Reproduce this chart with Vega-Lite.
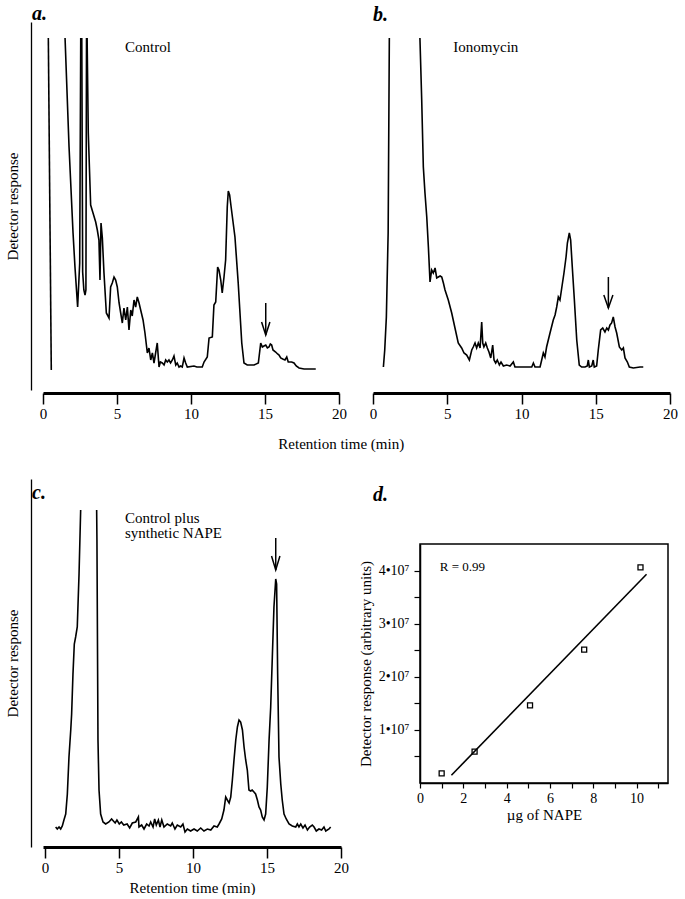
{
  "$schema": "https://vega.github.io/schema/vega-lite/v6.json",
  "padding": {"left": 5, "top": 4, "right": 0, "bottom": 0},
  "background": "white",
  "config": {
    "font": "Liberation Serif",
    "view": {"stroke": null},
    "axis": {"labelFont": "Liberation Serif", "titleFont": "Liberation Serif", "labelColor": "black", "titleColor": "black", "domainColor": "black", "tickColor": "black", "grid": false, "titleFontWeight": "normal", "labelFontSize": 15, "titleFontSize": 15, "labelFlush": false},
    "title": {"font": "Liberation Serif", "fontStyle": "italic", "fontWeight": "bold", "fontSize": 20, "anchor": "start", "frame": "group", "color": "black", "baseline": "alphabetic"},
    "text": {"font": "Liberation Serif", "fontSize": 15, "color": "black", "align": "left", "baseline": "alphabetic"}
  },
  "datasets": {
    "chromA": [
      {"seg": 1, "t": 0.36, "r": 352}, {"seg": 1, "t": 0.56, "r": 20},
      {"seg": 2, "t": 1.49, "r": 352}, {"seg": 2, "t": 1.76, "r": 243}, {"seg": 2, "t": 2.03, "r": 157}, {"seg": 2, "t": 2.16, "r": 123}, {"seg": 2, "t": 2.34, "r": 83}, {"seg": 2, "t": 2.48, "r": 127}, {"seg": 2, "t": 2.55, "r": 352},
      {"seg": 3, "t": 2.62, "r": 352}, {"seg": 3, "t": 2.68, "r": 118}, {"seg": 3, "t": 2.76, "r": 100}, {"seg": 3, "t": 2.84, "r": 95}, {"seg": 3, "t": 2.9, "r": 100}, {"seg": 3, "t": 2.94, "r": 352},
      {"seg": 4, "t": 2.98, "r": 352}, {"seg": 4, "t": 3.06, "r": 257}, {"seg": 4, "t": 3.22, "r": 185}, {"seg": 4, "t": 3.38, "r": 177}, {"seg": 4, "t": 3.56, "r": 168}, {"seg": 4, "t": 3.67, "r": 160}, {"seg": 4, "t": 3.78, "r": 150}, {"seg": 4, "t": 3.85, "r": 110}, {"seg": 4, "t": 3.92, "r": 167}, {"seg": 4, "t": 4.01, "r": 152}, {"seg": 4, "t": 4.12, "r": 117}, {"seg": 4, "t": 4.28, "r": 77}, {"seg": 4, "t": 4.46, "r": 72}, {"seg": 4, "t": 4.57, "r": 103}, {"seg": 4, "t": 4.68, "r": 107}, {"seg": 4, "t": 4.8, "r": 113}, {"seg": 4, "t": 4.91, "r": 110}, {"seg": 4, "t": 5.02, "r": 103}, {"seg": 4, "t": 5.14, "r": 87}, {"seg": 4, "t": 5.25, "r": 77}, {"seg": 4, "t": 5.36, "r": 67}, {"seg": 4, "t": 5.47, "r": 82}, {"seg": 4, "t": 5.59, "r": 70}, {"seg": 4, "t": 5.7, "r": 83}, {"seg": 4, "t": 5.81, "r": 60}, {"seg": 4, "t": 5.93, "r": 80}, {"seg": 4, "t": 6.03, "r": 74}, {"seg": 4, "t": 6.15, "r": 90}, {"seg": 4, "t": 6.26, "r": 83}, {"seg": 4, "t": 6.37, "r": 93}, {"seg": 4, "t": 6.49, "r": 87}, {"seg": 4, "t": 6.6, "r": 80}, {"seg": 4, "t": 6.76, "r": 70}, {"seg": 4, "t": 6.89, "r": 57}, {"seg": 4, "t": 7.05, "r": 37}, {"seg": 4, "t": 7.16, "r": 42}, {"seg": 4, "t": 7.28, "r": 30}, {"seg": 4, "t": 7.39, "r": 37}, {"seg": 4, "t": 7.5, "r": 27}, {"seg": 4, "t": 7.61, "r": 37}, {"seg": 4, "t": 7.72, "r": 47}, {"seg": 4, "t": 7.84, "r": 23}, {"seg": 4, "t": 7.93, "r": 28}, {"seg": 4, "t": 8.06, "r": 27}, {"seg": 4, "t": 8.18, "r": 25}, {"seg": 4, "t": 8.29, "r": 30}, {"seg": 4, "t": 8.4, "r": 28}, {"seg": 4, "t": 8.51, "r": 30}, {"seg": 4, "t": 8.62, "r": 27}, {"seg": 4, "t": 8.74, "r": 30}, {"seg": 4, "t": 8.85, "r": 34}, {"seg": 4, "t": 8.97, "r": 25}, {"seg": 4, "t": 9.07, "r": 27}, {"seg": 4, "t": 9.19, "r": 23}, {"seg": 4, "t": 9.3, "r": 24}, {"seg": 4, "t": 9.41, "r": 23}, {"seg": 4, "t": 9.53, "r": 32}, {"seg": 4, "t": 9.64, "r": 27}, {"seg": 4, "t": 9.75, "r": 23}, {"seg": 4, "t": 10.2, "r": 24}, {"seg": 4, "t": 10.4, "r": 23}, {"seg": 4, "t": 10.76, "r": 23}, {"seg": 4, "t": 10.88, "r": 28}, {"seg": 4, "t": 11.1, "r": 33}, {"seg": 4, "t": 11.22, "r": 52}, {"seg": 4, "t": 11.44, "r": 53}, {"seg": 4, "t": 11.55, "r": 85}, {"seg": 4, "t": 11.67, "r": 88}, {"seg": 4, "t": 11.8, "r": 123}, {"seg": 4, "t": 11.89, "r": 120}, {"seg": 4, "t": 12.01, "r": 110}, {"seg": 4, "t": 12.11, "r": 97}, {"seg": 4, "t": 12.23, "r": 113}, {"seg": 4, "t": 12.34, "r": 130}, {"seg": 4, "t": 12.45, "r": 183}, {"seg": 4, "t": 12.52, "r": 199}, {"seg": 4, "t": 12.61, "r": 195}, {"seg": 4, "t": 12.72, "r": 182}, {"seg": 4, "t": 12.97, "r": 153}, {"seg": 4, "t": 13.19, "r": 107}, {"seg": 4, "t": 13.43, "r": 47}, {"seg": 4, "t": 13.58, "r": 27}, {"seg": 4, "t": 13.8, "r": 25}, {"seg": 4, "t": 14.26, "r": 25}, {"seg": 4, "t": 14.55, "r": 27}, {"seg": 4, "t": 14.71, "r": 47}, {"seg": 4, "t": 14.82, "r": 43}, {"seg": 4, "t": 14.93, "r": 44}, {"seg": 4, "t": 15.05, "r": 45}, {"seg": 4, "t": 15.16, "r": 42}, {"seg": 4, "t": 15.27, "r": 43}, {"seg": 4, "t": 15.36, "r": 46}, {"seg": 4, "t": 15.45, "r": 45}, {"seg": 4, "t": 15.54, "r": 40}, {"seg": 4, "t": 15.72, "r": 38}, {"seg": 4, "t": 15.85, "r": 36}, {"seg": 4, "t": 15.95, "r": 35}, {"seg": 4, "t": 16.06, "r": 32}, {"seg": 4, "t": 16.2, "r": 31}, {"seg": 4, "t": 16.35, "r": 30}, {"seg": 4, "t": 16.47, "r": 33}, {"seg": 4, "t": 16.57, "r": 28}, {"seg": 4, "t": 16.8, "r": 28}, {"seg": 4, "t": 16.96, "r": 27}, {"seg": 4, "t": 17.11, "r": 24}, {"seg": 4, "t": 17.3, "r": 22}, {"seg": 4, "t": 17.64, "r": 21}, {"seg": 4, "t": 18.43, "r": 21}
    ],
    "chromB": [
      {"seg": 1, "t": 0.7, "r": 23}, {"seg": 1, "t": 0.79, "r": 40}, {"seg": 1, "t": 0.9, "r": 73}, {"seg": 1, "t": 1.02, "r": 157}, {"seg": 1, "t": 1.1, "r": 352},
      {"seg": 2, "t": 3.16, "r": 352}, {"seg": 2, "t": 3.28, "r": 290}, {"seg": 2, "t": 3.39, "r": 223}, {"seg": 2, "t": 3.5, "r": 197}, {"seg": 2, "t": 3.62, "r": 173}, {"seg": 2, "t": 3.73, "r": 143}, {"seg": 2, "t": 3.84, "r": 108}, {"seg": 2, "t": 3.95, "r": 120}, {"seg": 2, "t": 4.06, "r": 117}, {"seg": 2, "t": 4.18, "r": 122}, {"seg": 2, "t": 4.29, "r": 112}, {"seg": 2, "t": 4.4, "r": 113}, {"seg": 2, "t": 4.52, "r": 114}, {"seg": 2, "t": 4.63, "r": 113}, {"seg": 2, "t": 4.74, "r": 107}, {"seg": 2, "t": 4.85, "r": 100}, {"seg": 2, "t": 5.07, "r": 90}, {"seg": 2, "t": 5.3, "r": 77}, {"seg": 2, "t": 5.52, "r": 62}, {"seg": 2, "t": 5.74, "r": 47}, {"seg": 2, "t": 5.97, "r": 42}, {"seg": 2, "t": 6.13, "r": 37}, {"seg": 2, "t": 6.31, "r": 35}, {"seg": 2, "t": 6.49, "r": 30}, {"seg": 2, "t": 6.65, "r": 40}, {"seg": 2, "t": 6.75, "r": 43}, {"seg": 2, "t": 6.87, "r": 47}, {"seg": 2, "t": 6.98, "r": 42}, {"seg": 2, "t": 7.09, "r": 47}, {"seg": 2, "t": 7.21, "r": 42}, {"seg": 2, "t": 7.32, "r": 68}, {"seg": 2, "t": 7.39, "r": 47}, {"seg": 2, "t": 7.47, "r": 43}, {"seg": 2, "t": 7.59, "r": 47}, {"seg": 2, "t": 7.7, "r": 42}, {"seg": 2, "t": 7.81, "r": 38}, {"seg": 2, "t": 7.93, "r": 32}, {"seg": 2, "t": 8.06, "r": 45}, {"seg": 2, "t": 8.15, "r": 30}, {"seg": 2, "t": 8.26, "r": 27}, {"seg": 2, "t": 8.37, "r": 30}, {"seg": 2, "t": 8.51, "r": 25}, {"seg": 2, "t": 8.62, "r": 28}, {"seg": 2, "t": 8.78, "r": 24}, {"seg": 2, "t": 9.0, "r": 25}, {"seg": 2, "t": 9.23, "r": 24}, {"seg": 2, "t": 9.45, "r": 28}, {"seg": 2, "t": 9.56, "r": 23}, {"seg": 2, "t": 10.12, "r": 23}, {"seg": 2, "t": 10.69, "r": 23}, {"seg": 2, "t": 10.8, "r": 27}, {"seg": 2, "t": 10.91, "r": 23}, {"seg": 2, "t": 11.25, "r": 23}, {"seg": 2, "t": 11.36, "r": 30}, {"seg": 2, "t": 11.47, "r": 37}, {"seg": 2, "t": 11.58, "r": 33}, {"seg": 2, "t": 11.69, "r": 43}, {"seg": 2, "t": 11.92, "r": 57}, {"seg": 2, "t": 12.14, "r": 70}, {"seg": 2, "t": 12.26, "r": 75}, {"seg": 2, "t": 12.37, "r": 83}, {"seg": 2, "t": 12.48, "r": 93}, {"seg": 2, "t": 12.59, "r": 90}, {"seg": 2, "t": 12.71, "r": 102}, {"seg": 2, "t": 12.86, "r": 117}, {"seg": 2, "t": 13.0, "r": 133}, {"seg": 2, "t": 13.09, "r": 147}, {"seg": 2, "t": 13.22, "r": 157}, {"seg": 2, "t": 13.31, "r": 150}, {"seg": 2, "t": 13.42, "r": 123}, {"seg": 2, "t": 13.56, "r": 90}, {"seg": 2, "t": 13.72, "r": 50}, {"seg": 2, "t": 13.89, "r": 25}, {"seg": 2, "t": 14.05, "r": 23}, {"seg": 2, "t": 14.28, "r": 23}, {"seg": 2, "t": 14.43, "r": 24}, {"seg": 2, "t": 14.5, "r": 30}, {"seg": 2, "t": 14.57, "r": 23}, {"seg": 2, "t": 14.73, "r": 24}, {"seg": 2, "t": 14.83, "r": 30}, {"seg": 2, "t": 14.9, "r": 23}, {"seg": 2, "t": 15.06, "r": 24}, {"seg": 2, "t": 15.17, "r": 40}, {"seg": 2, "t": 15.33, "r": 60}, {"seg": 2, "t": 15.47, "r": 62}, {"seg": 2, "t": 15.62, "r": 58}, {"seg": 2, "t": 15.74, "r": 62}, {"seg": 2, "t": 15.85, "r": 60}, {"seg": 2, "t": 15.96, "r": 65}, {"seg": 2, "t": 16.07, "r": 67}, {"seg": 2, "t": 16.18, "r": 73}, {"seg": 2, "t": 16.3, "r": 63}, {"seg": 2, "t": 16.41, "r": 57}, {"seg": 2, "t": 16.59, "r": 43}, {"seg": 2, "t": 16.75, "r": 40}, {"seg": 2, "t": 16.86, "r": 42}, {"seg": 2, "t": 16.97, "r": 32}, {"seg": 2, "t": 17.13, "r": 28}, {"seg": 2, "t": 17.26, "r": 23}, {"seg": 2, "t": 17.53, "r": 22}, {"seg": 2, "t": 17.98, "r": 23}, {"seg": 2, "t": 18.2, "r": 23}
    ],
    "chromC": [
      {"seg": 1, "t": 0.72, "r": 20}, {"seg": 1, "t": 0.83, "r": 18}, {"seg": 1, "t": 0.95, "r": 20}, {"seg": 1, "t": 1.06, "r": 18}, {"seg": 1, "t": 1.17, "r": 21}, {"seg": 1, "t": 1.28, "r": 27}, {"seg": 1, "t": 1.4, "r": 33}, {"seg": 1, "t": 1.51, "r": 53}, {"seg": 1, "t": 1.62, "r": 90}, {"seg": 1, "t": 1.74, "r": 117}, {"seg": 1, "t": 1.8, "r": 133}, {"seg": 1, "t": 1.89, "r": 173}, {"seg": 1, "t": 1.98, "r": 203}, {"seg": 1, "t": 2.07, "r": 210}, {"seg": 1, "t": 2.18, "r": 220}, {"seg": 1, "t": 2.3, "r": 273}, {"seg": 1, "t": 2.41, "r": 337},
      {"seg": 2, "t": 3.49, "r": 337}, {"seg": 2, "t": 3.51, "r": 307}, {"seg": 2, "t": 3.58, "r": 107}, {"seg": 2, "t": 3.65, "r": 57}, {"seg": 2, "t": 3.76, "r": 33}, {"seg": 2, "t": 3.92, "r": 25}, {"seg": 2, "t": 4.1, "r": 23}, {"seg": 2, "t": 4.32, "r": 25}, {"seg": 2, "t": 4.5, "r": 28}, {"seg": 2, "t": 4.62, "r": 26}, {"seg": 2, "t": 4.74, "r": 24}, {"seg": 2, "t": 4.86, "r": 27}, {"seg": 2, "t": 5.02, "r": 23}, {"seg": 2, "t": 5.16, "r": 25}, {"seg": 2, "t": 5.32, "r": 22}, {"seg": 2, "t": 5.55, "r": 23}, {"seg": 2, "t": 5.72, "r": 19}, {"seg": 2, "t": 5.9, "r": 24}, {"seg": 2, "t": 6.13, "r": 25}, {"seg": 2, "t": 6.31, "r": 30}, {"seg": 2, "t": 6.35, "r": 20}, {"seg": 2, "t": 6.53, "r": 22}, {"seg": 2, "t": 6.69, "r": 18}, {"seg": 2, "t": 6.87, "r": 23}, {"seg": 2, "t": 7.03, "r": 21}, {"seg": 2, "t": 7.14, "r": 25}, {"seg": 2, "t": 7.3, "r": 20}, {"seg": 2, "t": 7.41, "r": 28}, {"seg": 2, "t": 7.52, "r": 22}, {"seg": 2, "t": 7.66, "r": 27}, {"seg": 2, "t": 7.77, "r": 20}, {"seg": 2, "t": 7.89, "r": 27}, {"seg": 2, "t": 8.04, "r": 20}, {"seg": 2, "t": 8.26, "r": 23}, {"seg": 2, "t": 8.49, "r": 21}, {"seg": 2, "t": 8.6, "r": 24}, {"seg": 2, "t": 8.78, "r": 18}, {"seg": 2, "t": 8.94, "r": 22}, {"seg": 2, "t": 9.17, "r": 20}, {"seg": 2, "t": 9.32, "r": 23}, {"seg": 2, "t": 9.46, "r": 15}, {"seg": 2, "t": 9.62, "r": 18}, {"seg": 2, "t": 9.84, "r": 16}, {"seg": 2, "t": 10.07, "r": 18}, {"seg": 2, "t": 10.29, "r": 16}, {"seg": 2, "t": 10.52, "r": 19}, {"seg": 2, "t": 10.74, "r": 16}, {"seg": 2, "t": 10.97, "r": 18}, {"seg": 2, "t": 11.2, "r": 17}, {"seg": 2, "t": 11.42, "r": 21}, {"seg": 2, "t": 11.64, "r": 20}, {"seg": 2, "t": 11.76, "r": 23}, {"seg": 2, "t": 11.94, "r": 28}, {"seg": 2, "t": 12.09, "r": 37}, {"seg": 2, "t": 12.21, "r": 50}, {"seg": 2, "t": 12.32, "r": 47}, {"seg": 2, "t": 12.44, "r": 44}, {"seg": 2, "t": 12.55, "r": 50}, {"seg": 2, "t": 12.66, "r": 67}, {"seg": 2, "t": 12.77, "r": 87}, {"seg": 2, "t": 12.89, "r": 107}, {"seg": 2, "t": 13.0, "r": 120}, {"seg": 2, "t": 13.11, "r": 127}, {"seg": 2, "t": 13.22, "r": 125}, {"seg": 2, "t": 13.34, "r": 117}, {"seg": 2, "t": 13.45, "r": 100}, {"seg": 2, "t": 13.56, "r": 87}, {"seg": 2, "t": 13.67, "r": 77}, {"seg": 2, "t": 13.78, "r": 57}, {"seg": 2, "t": 13.89, "r": 56}, {"seg": 2, "t": 14.0, "r": 57}, {"seg": 2, "t": 14.12, "r": 55}, {"seg": 2, "t": 14.23, "r": 53}, {"seg": 2, "t": 14.35, "r": 47}, {"seg": 2, "t": 14.46, "r": 40}, {"seg": 2, "t": 14.57, "r": 37}, {"seg": 2, "t": 14.68, "r": 30}, {"seg": 2, "t": 14.8, "r": 27}, {"seg": 2, "t": 14.91, "r": 33}, {"seg": 2, "t": 15.02, "r": 60}, {"seg": 2, "t": 15.14, "r": 107}, {"seg": 2, "t": 15.25, "r": 140}, {"seg": 2, "t": 15.36, "r": 190}, {"seg": 2, "t": 15.47, "r": 240}, {"seg": 2, "t": 15.59, "r": 268}, {"seg": 2, "t": 15.65, "r": 263}, {"seg": 2, "t": 15.72, "r": 173}, {"seg": 2, "t": 15.81, "r": 90}, {"seg": 2, "t": 15.93, "r": 63}, {"seg": 2, "t": 16.03, "r": 47}, {"seg": 2, "t": 16.15, "r": 33}, {"seg": 2, "t": 16.3, "r": 28}, {"seg": 2, "t": 16.49, "r": 23}, {"seg": 2, "t": 16.71, "r": 21}, {"seg": 2, "t": 16.94, "r": 20}, {"seg": 2, "t": 17.05, "r": 23}, {"seg": 2, "t": 17.16, "r": 20}, {"seg": 2, "t": 17.28, "r": 23}, {"seg": 2, "t": 17.43, "r": 19}, {"seg": 2, "t": 17.57, "r": 22}, {"seg": 2, "t": 17.73, "r": 17}, {"seg": 2, "t": 17.88, "r": 20}, {"seg": 2, "t": 18.06, "r": 22}, {"seg": 2, "t": 18.18, "r": 20}, {"seg": 2, "t": 18.33, "r": 16}, {"seg": 2, "t": 18.51, "r": 18}, {"seg": 2, "t": 18.69, "r": 17}, {"seg": 2, "t": 18.85, "r": 20}, {"seg": 2, "t": 18.97, "r": 16}, {"seg": 2, "t": 19.19, "r": 18}, {"seg": 2, "t": 19.3, "r": 20}
    ],
    "napePoints": [
      {"ug": 1.0, "resp": 1800000}, {"ug": 2.52, "resp": 5900000}, {"ug": 5.08, "resp": 14600000}, {"ug": 7.58, "resp": 25100000}, {"ug": 10.18, "resp": 40600000}
    ],
    "napeFit": [
      {"ug": 1.45, "resp": 1460000}, {"ug": 10.46, "resp": 39300000}
    ],
    "empty": []
  },
  "vconcat": [
    {
      "hconcat": [
        {
          "width": 296, "height": 368,
          "title": {"text": "a.", "dx": -11, "offset": -2},
          "encoding": {
            "x": {"field": "t", "type": "quantitative", "scale": {"domain": [0, 20], "nice": false, "zero": false},
                  "axis": {"orient": "bottom", "offset": 3, "domainWidth": 3, "tickWidth": 1.5, "tickSize": 11, "values": [0, 5, 10, 15, 20], "labelPadding": 2, "title": null}},
            "y": {"field": "r", "type": "quantitative", "scale": {"domain": [0, 368], "nice": false},
                  "axis": {"orient": "left", "offset": 12, "domainWidth": 1.3, "ticks": false, "labels": false, "title": "Detector response", "titlePadding": 11}}
          },
          "layer": [
            {"data": {"name": "chromA"}, "mark": {"type": "line", "stroke": "black", "strokeWidth": 1.6}, "encoding": {"detail": {"field": "seg", "type": "nominal"}}},
            {"data": {"values": [{"label": "Control", "t": 5.54, "r": 338}]}, "mark": {"type": "text"}, "encoding": {"text": {"field": "label"}}},
            {"data": {"values": [{"t": 15.05, "r": 87, "r2": 55}]}, "mark": {"type": "rule", "stroke": "black", "strokeWidth": 1.5}, "encoding": {"y2": {"field": "r2"}}},
            {"data": {"values": [{"t": 15.05, "r": 55}]}, "mark": {"type": "point", "shape": "M-0.32,-1L0,0L0.32,-1", "size": 676, "filled": false, "stroke": "black", "strokeWidth": 1.5, "opacity": 1}, "encoding": {}}
          ]
        },
        {
          "width": 297, "height": 368,
          "title": {"text": "b.", "dx": 0, "offset": -3},
          "encoding": {
            "x": {"field": "t", "type": "quantitative", "scale": {"domain": [0, 20], "nice": false, "zero": false},
                  "axis": {"orient": "bottom", "offset": 3, "domainWidth": 3, "tickWidth": 1.5, "tickSize": 11, "values": [0, 5, 10, 15, 20], "labelPadding": 2, "title": null}},
            "y": {"field": "r", "type": "quantitative", "scale": {"domain": [0, 368], "nice": false}, "axis": null}
          },
          "layer": [
            {"data": {"name": "chromB"}, "mark": {"type": "line", "stroke": "black", "strokeWidth": 1.6}, "encoding": {"detail": {"field": "seg", "type": "nominal"}}},
            {"data": {"values": [{"label": "Ionomycin", "t": 5.41, "r": 338}]}, "mark": {"type": "text"}, "encoding": {"text": {"field": "label"}}},
            {"data": {"values": [{"t": 15.85, "r": 113, "r2": 82}]}, "mark": {"type": "rule", "stroke": "black", "strokeWidth": 1.5}, "encoding": {"y2": {"field": "r2"}}},
            {"data": {"values": [{"t": 15.85, "r": 82}]}, "mark": {"type": "point", "shape": "M-0.35,-1L0,0L0.35,-1", "size": 676, "filled": false, "stroke": "black", "strokeWidth": 1.5, "opacity": 1}, "encoding": {}}
          ]
        }
      ],
      "spacing": 22,
      "title": {"text": "Retention time (min)", "orient": "bottom", "anchor": "middle", "frame": "bounds", "fontStyle": "normal", "fontWeight": "normal", "fontSize": 15, "offset": 16}
    },
    {
      "hconcat": [
        {
          "width": 298, "height": 368,
          "title": {"text": "c.", "dx": -11, "offset": -24},
          "encoding": {
            "x": {"field": "t", "type": "quantitative", "scale": {"domain": [-0.135, 20], "nice": false, "zero": false},
                  "axis": {"orient": "bottom", "offset": 0, "domainWidth": 3, "tickWidth": 1.5, "tickSize": 11, "values": [0, 5, 10, 15, 20], "labelPadding": 2, "title": "Retention time (min)", "titlePadding": 5}},
            "y": {"field": "r", "type": "quantitative", "scale": {"domain": [0, 368], "nice": false},
                  "axis": {"orient": "left", "offset": 12, "domainWidth": 1.3, "ticks": false, "labels": false, "title": "Detector response", "titlePadding": 11}}
          },
          "layer": [
            {"data": {"name": "chromC"}, "mark": {"type": "line", "stroke": "black", "strokeWidth": 1.6}, "encoding": {"detail": {"field": "seg", "type": "nominal"}}},
            {"data": {"values": [{"label": "Control plus", "t": 5.4, "r": 324}, {"label": "synthetic NAPE", "t": 5.4, "r": 309.5}]}, "mark": {"type": "text"}, "encoding": {"text": {"field": "label"}}},
            {"data": {"values": [{"t": 15.59, "r": 309, "r2": 277}]}, "mark": {"type": "rule", "stroke": "black", "strokeWidth": 1.5}, "encoding": {"y2": {"field": "r2"}}},
            {"data": {"values": [{"t": 15.59, "r": 277}]}, "mark": {"type": "point", "shape": "M-0.3,-1L0,0L0.3,-1", "size": 784, "filled": false, "stroke": "black", "strokeWidth": 1.5, "opacity": 1}, "encoding": {}}
          ]
        },
        {
          "vconcat": [
            {"width": 1, "height": 1, "data": {"name": "empty"}, "mark": {"type": "point", "opacity": 0}, "encoding": {}},
            {
              "width": 248, "height": 239,
              "title": {"text": "d.", "dx": -47, "offset": 39},
              "view": {"stroke": "black", "strokeWidth": 1.5},
              "encoding": {
                "x": {"field": "ug", "type": "quantitative", "scale": {"domain": [0, 11.45], "nice": false, "zero": false},
                      "axis": {"orient": "bottom", "domainWidth": 1.5, "tickWidth": 1.2, "tickSize": 5, "values": [0, 1, 2, 3, 4, 5, 6, 7, 8, 9, 10, 11], "labelExpr": "datum.value % 2 === 0 ? datum.label : ''", "labelFontSize": 14, "labelPadding": 3, "title": "µg of NAPE", "titleFontSize": 15, "titlePadding": 2}},
                "y": {"field": "resp", "type": "quantitative", "scale": {"domain": [0, 45000000], "nice": false},
                      "axis": {"orient": "left", "domainWidth": 1.5, "tickWidth": 1.2, "tickSize": 6, "values": [5000000, 10000000, 15000000, 20000000, 25000000, 30000000, 35000000, 40000000], "labelExpr": "datum.value % 10000000 === 0 ? (datum.value / 10000000) + '•10⁷' : ''", "labelFontSize": 14, "labelPadding": 5, "title": "Detector response (arbitrary units)", "titleFontSize": 15, "titlePadding": 5}}
              },
              "layer": [
                {"data": {"name": "napeFit"}, "mark": {"type": "line", "stroke": "black", "strokeWidth": 1.6}},
                {"data": {"name": "napePoints"}, "mark": {"type": "point", "shape": "square", "size": 25, "filled": false, "stroke": "black", "strokeWidth": 1.3, "opacity": 1}},
                {"data": {"values": [{"label": "R = 0.99", "ug": 0.91, "resp": 40000000}]}, "mark": {"type": "text", "fontSize": 13}, "encoding": {"text": {"field": "label"}}}
              ]
            }
          ],
          "spacing": 4
        }
      ],
      "spacing": 8
    }
  ],
  "spacing": 27
}
